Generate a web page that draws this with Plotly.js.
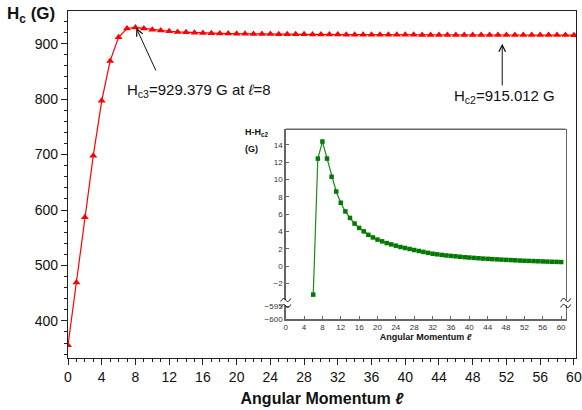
<!DOCTYPE html>
<html>
<head>
<meta charset="utf-8">
<script src="https://cdn.plot.ly/plotly-3.0.1.min.js"></script>
<style>html,body{margin:0;padding:0;background:#fff;}#chart{width:582px;height:410px;}</style>
</head>
<body>
<div id="chart"></div>
<script>
// Main curve: angular momentum l and critical field Hc (G)
const lMain = [0,1,2,3,4,5,6,7,8,9,10,11,12,13,14,15,16,17,18,19,20,21,22,23,24,25,26,27,28,29,30,
  31,32,33,34,35,36,37,38,39,40,41,42,43,44,45,46,47,48,49,50,51,52,53,54,55,56,57,58,59,60];
const hc = [356,469,587,698,797,869,911.7,927.4,929.379,927.4,925.3,923.6,922.3,921.3,920.56,919.9,
  919.4,919.0,918.6,918.3,918.06,917.86,917.66,917.51,917.36,917.21,917.09,916.98,916.86,916.75,916.64,
  916.53,916.43,916.36,916.29,916.23,916.18,916.13,916.08,916.03,915.99,915.95,915.91,915.87,915.84,915.81,
  915.78,915.75,915.72,915.7,915.67,915.64,915.62,915.6,915.58,915.56,915.54,915.52,915.5,915.49,915.47];

// Inset: H - Hc2 (G)
const lInset = [6,7,8,9,10,11,12,13,14,15,16,17,18,19,20,21,22,23,24,25,26,27,28,29,30,
  31,32,33,34,35,36,37,38,39,40,41,42,43,44,45,46,47,48,49,50,51,52,53,54,55,56,57,58,59,60];
const dH = [-3.3,12.4,14.367,12.4,10.3,8.6,7.3,6.3,5.55,4.9,4.4,4.0,3.6,3.3,3.05,2.85,2.65,2.5,2.35,2.2,
  2.08,1.97,1.85,1.74,1.63,1.52,1.42,1.35,1.28,1.22,1.17,1.12,1.07,1.02,0.98,0.94,0.90,0.86,0.83,0.80,
  0.77,0.74,0.71,0.69,0.66,0.63,0.61,0.59,0.57,0.55,0.53,0.51,0.49,0.48,0.46];
const lowerTicks = [-600, -595];

const hc3Label = 'H<sub>c3</sub>=929.379 G at <i>ℓ</i>=8';
const hc2Label = 'H<sub>c2</sub>=915.012 G';

// pixel -> paper helpers (plot area: x 68..576, y 11..358)
const PL = 68, PW = 508, PB = 358, PH = 347;
const px = v => (v - PL) / PW;
const py = v => (PB - v) / PH;
function squiggle(cx, cy) {
  const p = (x, y) => px(x).toFixed(5) + ',' + py(y).toFixed(5);
  return 'M' + p(cx-5, cy+1.5) + ' C' + p(cx-3, cy-2.5) + ' ' + p(cx-1, cy-2) + ' ' + p(cx, cy) +
         ' C' + p(cx+1, cy+2) + ' ' + p(cx+3, cy+2.5) + ' ' + p(cx+5, cy-1.5);
}

const font = 'Arial, "Liberation Sans", sans-serif';
const insetGray = '#666';

const traces = [
  {x: lMain, y: hc, type: 'scatter', mode: 'lines+markers', xaxis: 'x', yaxis: 'y',
   line: {color: '#ff0000', width: 1.2}, marker: {symbol: 'triangle-up', size: 7, color: '#ff0000'}},
  {x: lInset, y: dH, type: 'scatter', mode: 'lines+markers', xaxis: 'x2', yaxis: 'y3',
   line: {color: '#1a8a1a', width: 1.2}, marker: {symbol: 'square', size: 4.5, color: '#007a00'},
   cliponaxis: false},
  {x: [], y: [], type: 'scatter', xaxis: 'x2', yaxis: 'y4', showlegend: false}
];

const layout = {
  width: 582, height: 410,
  margin: {l: 68, r: 6, t: 11, b: 52},
  paper_bgcolor: '#fff', plot_bgcolor: '#fff',
  showlegend: false,
  font: {family: font, color: '#111'},
  xaxis: {
    range: [0, 60.25], dtick: 4, tick0: 0, ticks: 'outside', ticklen: 6, tickwidth: 1,
    tickcolor: '#222', minor: {dtick: 1, ticks: 'outside', ticklen: 3, tickcolor: '#222'},
    showline: true, linecolor: '#222', linewidth: 1.2, mirror: true,
    showgrid: false, zeroline: false,
    tickfont: {size: 14, color: '#111'},
    title: {text: '<b>Angular Momentum <i>ℓ</i></b>', font: {size: 16, color: '#111'}, standoff: 8}
  },
  yaxis: {
    range: [333, 959], dtick: 100, tick0: 0, ticks: 'outside', ticklen: 6, tickwidth: 1,
    tickcolor: '#222', minor: {dtick: 20, ticks: 'outside', ticklen: 3, tickcolor: '#222'},
    showline: true, linecolor: '#222', linewidth: 1.2, mirror: true,
    showgrid: false, zeroline: false,
    tickfont: {size: 14, color: '#111'}
  },
  xaxis2: {
    domain: [px(285.7), px(565.7)], anchor: 'y4',
    range: [0, 61], dtick: 4, tick0: 0, ticks: 'inside', ticklen: 3, tickcolor: insetGray,
    showline: true, linecolor: insetGray, linewidth: 1.5,
    showgrid: false, zeroline: false,
    tickfont: {size: 8, color: '#333'},
    title: {text: '<b>Angular Momentum <i>ℓ</i></b>', font: {size: 9, color: '#111'}, standoff: 2}
  },
  yaxis3: {
    domain: [py(300), py(129.3)], anchor: 'x2',
    range: [-3.92, 15.78], dtick: 2, tick0: 0, ticks: 'inside', ticklen: 3, tickcolor: insetGray,
    showline: true, linecolor: insetGray, linewidth: 1.5, mirror: true,
    showgrid: false, zeroline: false,
    tickfont: {size: 8, color: '#333'}
  },
  yaxis4: {
    domain: [py(319.3), py(305)], anchor: 'x2',
    range: [-600, -594.6], tickvals: lowerTicks, ticks: 'inside', ticklen: 3, tickcolor: insetGray,
    showline: true, linecolor: insetGray, linewidth: 1.5, mirror: true,
    showgrid: false, zeroline: false,
    tickfont: {size: 8, color: '#333'}
  },
  shapes: [
    {type: 'line', xref: 'x2 domain', yref: 'y3 domain', x0: 0, x1: 1, y0: 1, y1: 1,
     line: {color: insetGray, width: 1.5}},
    {type: 'path', xref: 'paper', yref: 'paper', path: squiggle(285.7, 300), line: {color: '#111', width: 1}},
    {type: 'path', xref: 'paper', yref: 'paper', path: squiggle(285.7, 306), line: {color: '#111', width: 1}},
    {type: 'path', xref: 'paper', yref: 'paper', path: squiggle(565.7, 300), line: {color: '#111', width: 1}},
    {type: 'path', xref: 'paper', yref: 'paper', path: squiggle(565.7, 306), line: {color: '#111', width: 1}}
  ],
  annotations: [
    {xref: 'paper', yref: 'paper', x: px(5), y: py(15), xanchor: 'left', yanchor: 'middle',
     text: '<b>H<sub>c</sub> (G)</b>', showarrow: false, font: {size: 17, color: '#111'}},
    {xref: 'x', yref: 'y', axref: 'x', ayref: 'y', x: 8.1, y: 928.5, ax: 10.5, ay: 849,
     text: '', showarrow: true, arrowhead: 5, arrowsize: 1.3, arrowwidth: 1, arrowcolor: '#111'},
    {xref: 'x', yref: 'y', x: 6.75, y: 816, xanchor: 'left', yanchor: 'middle',
     text: hc3Label, showarrow: false, font: {size: 15, color: '#111'}},
    {xref: 'x', yref: 'y', axref: 'x', ayref: 'y', x: 51.5, y: 900, ax: 51.5, ay: 822,
     text: '', showarrow: true, arrowhead: 5, arrowsize: 1.3, arrowwidth: 1, arrowcolor: '#111'},
    {xref: 'x', yref: 'y', x: 45.5, y: 804, xanchor: 'left', yanchor: 'middle',
     text: hc2Label, showarrow: false, font: {size: 15, color: '#111'}},
    {xref: 'paper', yref: 'paper', x: px(243), y: py(132), xanchor: 'left', yanchor: 'middle',
     text: '<b>H-H<sub>c2</sub></b>', showarrow: false, font: {size: 9, color: '#111'}},
    {xref: 'paper', yref: 'paper', x: px(243), y: py(149), xanchor: 'left', yanchor: 'middle',
     text: '<b>(G)</b>', showarrow: false, font: {size: 9, color: '#111'}}
  ]
};

Plotly.newPlot('chart', traces, layout, {displayModeBar: false, staticPlot: true});
</script>
</body>
</html>
